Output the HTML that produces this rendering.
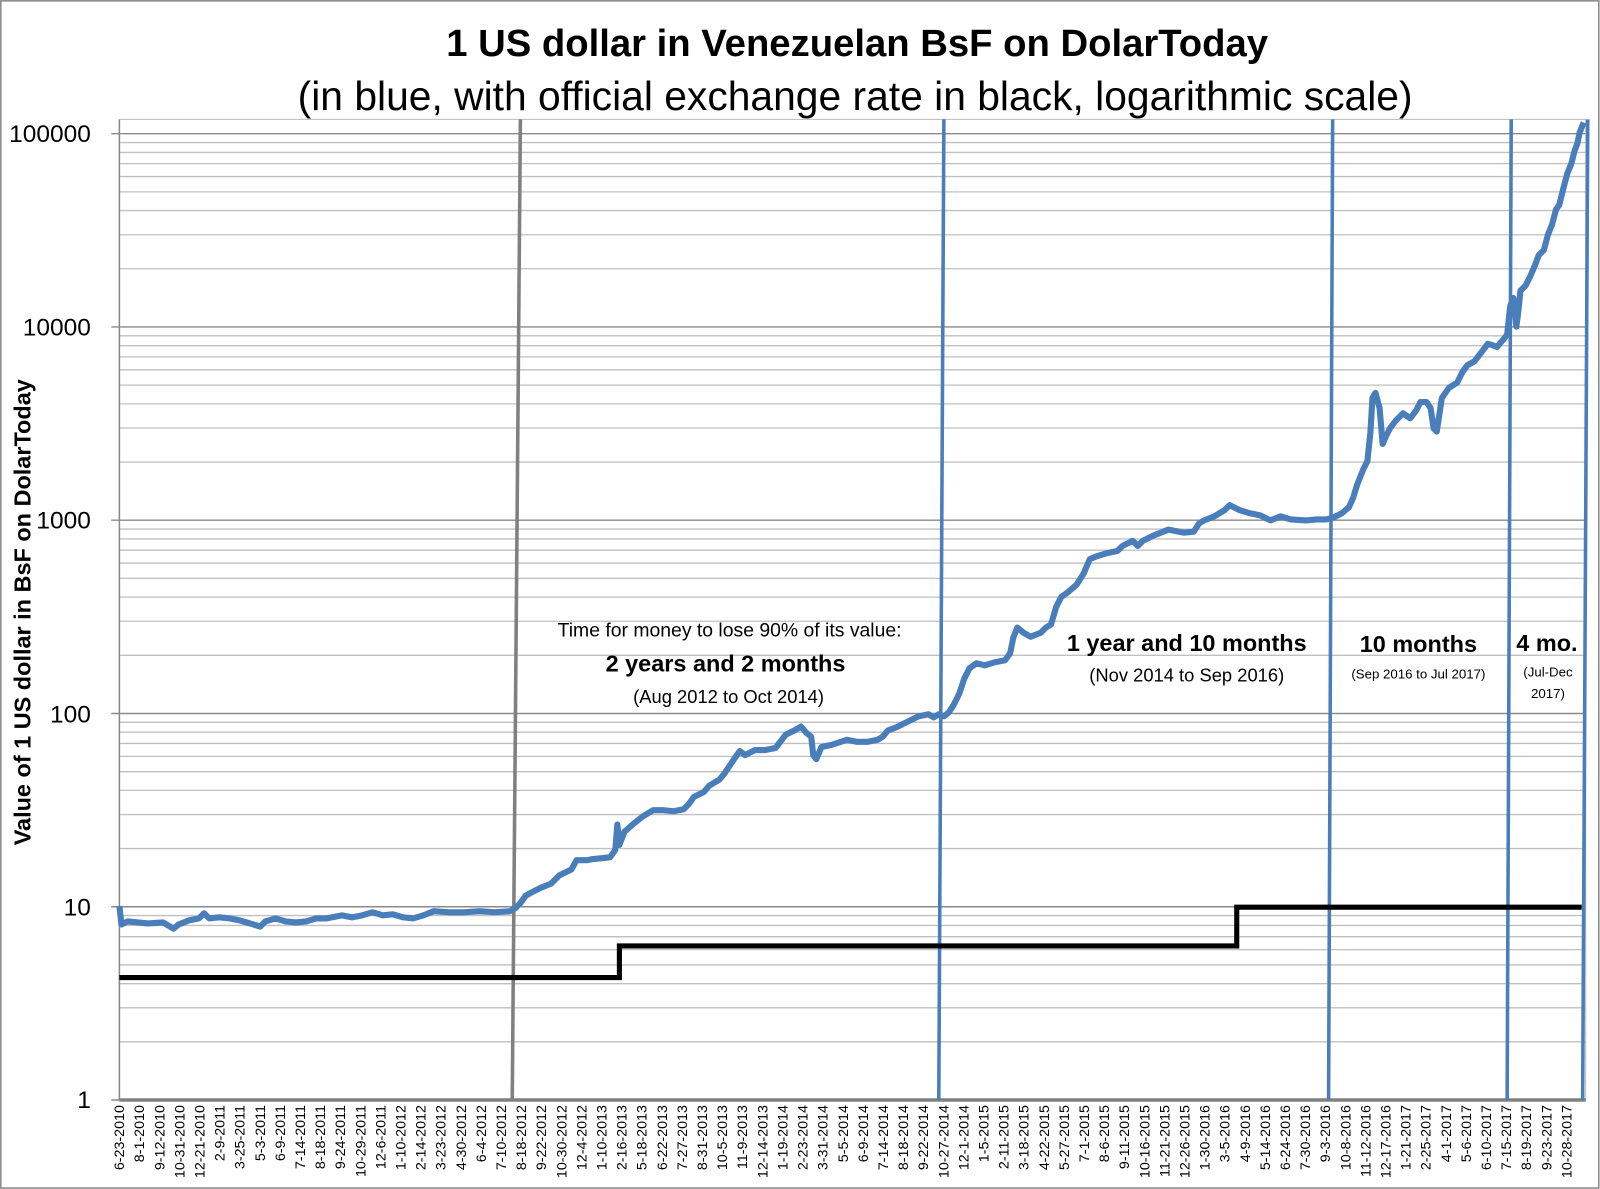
<!DOCTYPE html>
<html><head><meta charset="utf-8"><style>
html,body{margin:0;padding:0;background:#fff;}
svg{display:block;}
text{font-family:"Liberation Sans","DejaVu Sans",sans-serif;fill:#000;}
</style></head><body>
<svg width="1600" height="1189" viewBox="0 0 1568 1165.2" xmlns="http://www.w3.org/2000/svg">
<rect x="0.8" y="0.8" width="1566" height="1163.5" fill="#fff" stroke="#888" stroke-width="1.5"/>
<path fill="none" stroke="#c0c0c0" stroke-width="1.3" d="M117 1020.98H1554M117 987.63H1554M117 963.97H1554M117 945.62H1554M117 930.62H1554M117 917.94H1554M117 906.95H1554M117 897.27H1554
M117 831.58H1554M117 798.23H1554M117 774.57H1554M117 756.22H1554M117 741.22H1554M117 728.54H1554M117 717.55H1554M117 707.87H1554
M117 642.18H1554M117 608.83H1554M117 585.17H1554M117 566.82H1554M117 551.82H1554M117 539.14H1554M117 528.15H1554M117 518.47H1554
M117 452.78H1554M117 419.43H1554M117 395.77H1554M117 377.42H1554M117 362.42H1554M117 349.74H1554M117 338.75H1554M117 329.07H1554
M117 263.38H1554M117 230.03H1554M117 206.37H1554M117 188.02H1554M117 173.02H1554M117 160.34H1554M117 149.35H1554M117 139.67H1554"/>
<path fill="none" stroke="#8a8a8a" stroke-width="1.4" d="M109 888.6H1554M109 699.2H1554M109 509.8H1554M109 320.4H1554M109 131H1554M109 1078H117"/>
<path fill="none" stroke="#bbb" stroke-width="1" d="M117 117H1554V1078"/>
<line x1="117" y1="117" x2="117" y2="1078" stroke="#8a8a8a" stroke-width="1.5"/>
<line x1="117" y1="1078" x2="1554" y2="1078" stroke="#808080" stroke-width="3.5"/>
<text x="840" y="55" font-size="37.5" font-weight="bold" text-anchor="middle">1 US dollar in Venezuelan BsF on DolarToday</text>
<text x="838" y="108" font-size="40" text-anchor="middle">(in blue, with official exchange rate in black, logarithmic scale)</text>
<text transform="translate(30,600) rotate(-90)" font-size="23" font-weight="bold" text-anchor="middle">Value of 1 US dollar in BsF on DolarToday</text>
<g font-size="24" text-anchor="end">
<text x="89" y="139">100000</text><text x="89" y="329">10000</text><text x="89" y="518">1000</text>
<text x="89" y="708">100</text><text x="89" y="897">10</text><text x="89" y="1086">1</text>
</g>
<g font-size="14" text-anchor="end">
<text transform="translate(121.6,1083) rotate(-90)">6-23-2010</text>
<text transform="translate(141.3,1083) rotate(-90)">8-1-2010</text>
<text transform="translate(161,1083) rotate(-90)">9-12-2010</text>
<text transform="translate(180.7,1083) rotate(-90)">10-31-2010</text>
<text transform="translate(200.4,1083) rotate(-90)">12-21-2010</text>
<text transform="translate(220.1,1083) rotate(-90)">2-9-2011</text>
<text transform="translate(239.8,1083) rotate(-90)">3-25-2011</text>
<text transform="translate(259.5,1083) rotate(-90)">5-3-2011</text>
<text transform="translate(279.2,1083) rotate(-90)">6-9-2011</text>
<text transform="translate(298.9,1083) rotate(-90)">7-14-2011</text>
<text transform="translate(318.6,1083) rotate(-90)">8-18-2011</text>
<text transform="translate(338.3,1083) rotate(-90)">9-24-2011</text>
<text transform="translate(358,1083) rotate(-90)">10-29-2011</text>
<text transform="translate(377.7,1083) rotate(-90)">12-6-2011</text>
<text transform="translate(397.4,1083) rotate(-90)">1-10-2012</text>
<text transform="translate(417.1,1083) rotate(-90)">2-14-2012</text>
<text transform="translate(436.8,1083) rotate(-90)">3-23-2012</text>
<text transform="translate(456.5,1083) rotate(-90)">4-30-2012</text>
<text transform="translate(476.2,1083) rotate(-90)">6-4-2012</text>
<text transform="translate(495.9,1083) rotate(-90)">7-10-2012</text>
<text transform="translate(515.6,1083) rotate(-90)">8-18-2012</text>
<text transform="translate(535.3,1083) rotate(-90)">9-22-2012</text>
<text transform="translate(555,1083) rotate(-90)">10-30-2012</text>
<text transform="translate(574.7,1083) rotate(-90)">12-4-2012</text>
<text transform="translate(594.4,1083) rotate(-90)">1-10-2013</text>
<text transform="translate(614.1,1083) rotate(-90)">2-16-2013</text>
<text transform="translate(633.8,1083) rotate(-90)">5-18-2013</text>
<text transform="translate(653.5,1083) rotate(-90)">6-22-2013</text>
<text transform="translate(673.2,1083) rotate(-90)">7-27-2013</text>
<text transform="translate(692.9,1083) rotate(-90)">8-31-2013</text>
<text transform="translate(712.6,1083) rotate(-90)">10-5-2013</text>
<text transform="translate(732.3,1083) rotate(-90)">11-9-2013</text>
<text transform="translate(752,1083) rotate(-90)">12-14-2013</text>
<text transform="translate(771.7,1083) rotate(-90)">1-19-2014</text>
<text transform="translate(791.4,1083) rotate(-90)">2-23-2014</text>
<text transform="translate(811.1,1083) rotate(-90)">3-31-2014</text>
<text transform="translate(830.8,1083) rotate(-90)">5-5-2014</text>
<text transform="translate(850.5,1083) rotate(-90)">6-9-2014</text>
<text transform="translate(870.2,1083) rotate(-90)">7-14-2014</text>
<text transform="translate(889.9,1083) rotate(-90)">8-18-2014</text>
<text transform="translate(909.6,1083) rotate(-90)">9-22-2014</text>
<text transform="translate(929.3,1083) rotate(-90)">10-27-2014</text>
<text transform="translate(949,1083) rotate(-90)">12-1-2014</text>
<text transform="translate(968.7,1083) rotate(-90)">1-5-2015</text>
<text transform="translate(988.4,1083) rotate(-90)">2-11-2015</text>
<text transform="translate(1008.1,1083) rotate(-90)">3-18-2015</text>
<text transform="translate(1027.8,1083) rotate(-90)">4-22-2015</text>
<text transform="translate(1047.5,1083) rotate(-90)">5-27-2015</text>
<text transform="translate(1067.2,1083) rotate(-90)">7-1-2015</text>
<text transform="translate(1086.9,1083) rotate(-90)">8-6-2015</text>
<text transform="translate(1106.6,1083) rotate(-90)">9-11-2015</text>
<text transform="translate(1126.3,1083) rotate(-90)">10-16-2015</text>
<text transform="translate(1146,1083) rotate(-90)">11-21-2015</text>
<text transform="translate(1165.7,1083) rotate(-90)">12-26-2015</text>
<text transform="translate(1185.4,1083) rotate(-90)">1-30-2016</text>
<text transform="translate(1205.1,1083) rotate(-90)">3-5-2016</text>
<text transform="translate(1224.8,1083) rotate(-90)">4-9-2016</text>
<text transform="translate(1244.5,1083) rotate(-90)">5-14-2016</text>
<text transform="translate(1264.2,1083) rotate(-90)">6-24-2016</text>
<text transform="translate(1283.9,1083) rotate(-90)">7-30-2016</text>
<text transform="translate(1303.6,1083) rotate(-90)">9-3-2016</text>
<text transform="translate(1323.3,1083) rotate(-90)">10-8-2016</text>
<text transform="translate(1343,1083) rotate(-90)">11-12-2016</text>
<text transform="translate(1362.7,1083) rotate(-90)">12-17-2016</text>
<text transform="translate(1382.4,1083) rotate(-90)">1-21-2017</text>
<text transform="translate(1402.1,1083) rotate(-90)">2-25-2017</text>
<text transform="translate(1421.8,1083) rotate(-90)">4-1-2017</text>
<text transform="translate(1441.5,1083) rotate(-90)">5-6-2017</text>
<text transform="translate(1461.2,1083) rotate(-90)">6-10-2017</text>
<text transform="translate(1480.9,1083) rotate(-90)">7-15-2017</text>
<text transform="translate(1500.6,1083) rotate(-90)">8-19-2017</text>
<text transform="translate(1520.3,1083) rotate(-90)">9-23-2017</text>
<text transform="translate(1540,1083) rotate(-90)">10-28-2017</text>
</g>
<line x1="510" y1="117" x2="502" y2="1078" stroke="#808080" stroke-width="3.5"/>
<line x1="925" y1="117" x2="920" y2="1078" stroke="#4a7ebb" stroke-width="3.5"/>
<line x1="1306" y1="117" x2="1302" y2="1078" stroke="#4a7ebb" stroke-width="3.5"/>
<line x1="1481" y1="117" x2="1477" y2="1078" stroke="#4a7ebb" stroke-width="3.5"/>
<line x1="1556" y1="117" x2="1551" y2="1078" stroke="#4a7ebb" stroke-width="3.5"/>
<polyline fill="none" stroke="#000" stroke-width="5" points="117,958 607,958 607,927 1212,927 1212,889 1550,889"/>
<polyline fill="none" stroke="#4a7ebb" stroke-width="6" stroke-linejoin="round" points="117,888 119,906 125,903 135,904 145,905 160,904 170,910 175,906 185,902 195,900 200,895 205,900 215,899 225,900 235,902 245,905 255,908 260,903 270,900 280,903 290,904 300,903 310,900 320,900 335,897 345,899 355,897 365,894 375,897 385,896 395,899 405,900 415,897 425,893 440,894 455,894 470,893 485,894 500,893 505,890 510,885 515,878 520,875 530,870 540,866 548,858 560,852 565,843 575,843 580,842 590,841 598,840 603,833 605,808 607,828 612,815 620,808 630,800 640,794 650,794 660,795 670,793 675,788 680,781 690,776 695,770 705,764 710,758 720,743 725,736 730,740 740,735 750,735 760,733 770,720 780,715 785,712 790,718 795,722 797,740 800,744 805,732 815,730 830,725 840,727 850,727 860,725 865,722 870,716 880,712 890,707 900,702 910,700 915,703 920,700 925,702 930,698 935,690 940,680 945,665 950,655 957,650 965,652 975,649 985,647 990,640 993,625 997,615 1003,620 1010,624 1020,620 1025,615 1030,612 1035,595 1040,585 1047,580 1055,573 1062,562 1068,548 1075,545 1085,542 1095,540 1100,535 1110,530 1115,535 1120,530 1130,525 1145,519 1160,522 1170,521 1175,513 1180,510 1190,506 1200,500 1205,495 1215,500 1225,503 1235,505 1245,510 1255,506 1265,509 1280,510 1290,509 1300,509 1307,507 1315,503 1322,497 1326,488 1330,475 1336,460 1340,452 1343,424 1345,390 1348,385 1352,400 1355,435 1358,428 1362,420 1368,412 1375,405 1382,410 1388,402 1392,394 1398,394 1402,400 1405,420 1408,423 1410,410 1413,390 1420,380 1428,375 1433,365 1438,358 1445,354 1452,345 1458,337 1462,338 1467,340 1473,333 1477,328 1480,300 1483,292 1486,320 1488,305 1490,285 1495,280 1500,270 1505,258 1508,250 1513,245 1517,230 1521,220 1525,205 1528,201 1532,185 1536,170 1540,160 1543,148 1546,140 1548,130 1552,120"/>
<text x="715" y="624" font-size="19" text-anchor="middle">Time for money to lose 90% of its value:</text>
<text x="711" y="658" font-size="23" font-weight="bold" text-anchor="middle">2 years and 2 months</text>
<text x="714" y="689" font-size="18" text-anchor="middle">(Aug 2012 to Oct 2014)</text>
<text x="1163" y="638" font-size="23" font-weight="bold" text-anchor="middle">1 year and 10 months</text>
<text x="1163" y="668" font-size="18" text-anchor="middle">(Nov 2014  to Sep 2016)</text>
<text x="1390" y="639" font-size="23" font-weight="bold" text-anchor="middle">10 months</text>
<text x="1390" y="665" font-size="13" text-anchor="middle">(Sep 2016 to Jul 2017)</text>
<text x="1516" y="638" font-size="23" font-weight="bold" text-anchor="middle">4 mo.</text>
<text x="1517" y="663" font-size="13" text-anchor="middle">(Jul-Dec</text>
<text x="1517" y="684" font-size="13" text-anchor="middle">2017)</text>
</svg>
</body></html>
